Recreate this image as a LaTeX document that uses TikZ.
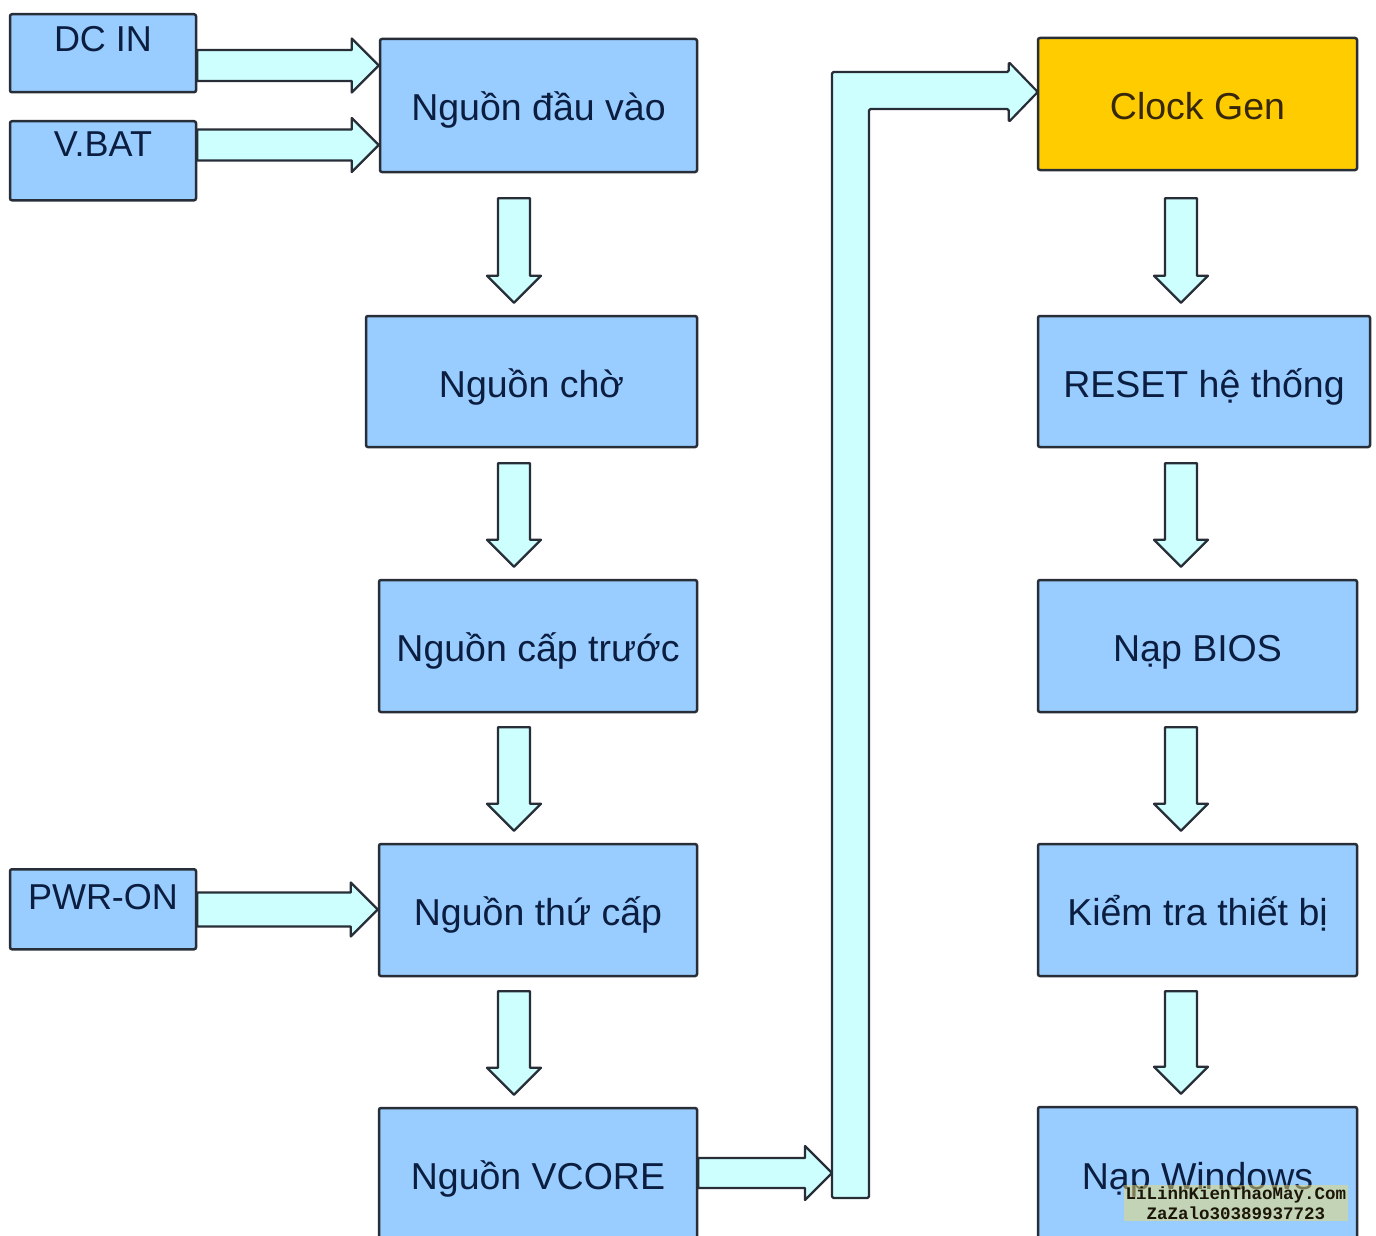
\documentclass[tikz,border=0pt]{standalone}
\usepackage{fontspec}
\setmainfont{Liberation Sans}
\newfontfamily\wmfont{Liberation Mono}
\usetikzlibrary{calc}
\definecolor{boxblue}{RGB}{153,204,255}
\definecolor{arrowcyan}{RGB}{206,255,255}
\definecolor{edgecol}{RGB}{40,46,56}
\definecolor{clockfill}{RGB}{255,204,0}
\definecolor{navytext}{RGB}{12,30,64}
\definecolor{browntext}{RGB}{55,40,10}
\definecolor{wmglow}{RGB}{236,218,110}
\definecolor{wmtext}{RGB}{28,22,8}
\tikzset{
  blockbox/.style={draw=edgecol, line width=2.5pt, fill=boxblue, rounded corners=2pt,
    text=navytext, font=\fontsize{37.5}{40}\selectfont, inner sep=0pt, anchor=center,
    text height=40pt, text depth=9pt},
  srcbox/.style={draw=edgecol, line width=2.5pt, fill=boxblue, rounded corners=2pt,
    text=navytext, font=\fontsize{36}{40}\selectfont, inner sep=0pt,
    minimum width=186pt, anchor=north},
  fatarrow/.style={draw=edgecol, line width=2.2pt, fill=arrowcyan, line join=round},
  wmark/.style={font=\wmfont\bfseries\fontsize{17.5}{20}\selectfont, align=center,
    fill=wmglow, fill opacity=0.5, text opacity=1, text=wmtext, inner sep=1.5pt}
}
% horizontal block arrow: from anchor #1 to anchor #2, centre y #3, shaft half #4
\newcommand\hfat[4]{%
  \draw[fatarrow] let \p1=(#1), \p2=(#2) in
    (\x1,#3pt+#4pt) -- (\x2-27pt,#3pt+#4pt) -- (\x2-27pt,#3pt+27pt) -- (\x2,#3pt)
    -- (\x2-27pt,#3pt-27pt) -- (\x2-27pt,#3pt-#4pt) -- (\x1,#3pt-#4pt) -- cycle;}
% vertical block arrow: from node #1 down to node #2, centre x #3, gap below #1 #4
\newcommand\vfat[4]{%
  \draw[fatarrow] let \p1=(#1.south), \p2=(#2.north) in
    (#3pt-16pt,\y1-#4pt) -- (#3pt+16pt,\y1-#4pt) -- (#3pt+16pt,\y2+39pt)
    -- (#3pt+27pt,\y2+39pt) -- (#3pt,\y2+12pt) -- (#3pt-27pt,\y2+39pt)
    -- (#3pt-16pt,\y2+39pt) -- cycle;}
\begin{document}
\begin{tikzpicture}[x=1pt,y=1pt]
\useasboundingbox (0,0) rectangle (1376,-1236);
\fill[white] (0,0) rectangle (1376,-1236);
\clip (0,0) rectangle (1376,-1236);

% source boxes
\node[srcbox, text height=37pt, text depth=41pt] (dcin) at (103,-13) {DC IN};
\node[srcbox, text height=35pt, text depth=44pt] (vbat) at (103,-120) {V.BAT};
\node[srcbox, text height=40pt, text depth=40pt] (pwron) at (103,-868) {PWR-ON};

% left column
\node[blockbox, minimum width=317pt, minimum height=133pt] (nin) at (538.5,-105.5) {Nguồn đầu vào};
\node[blockbox, minimum width=331pt, minimum height=131pt] (ncho) at (531.5,-381.5) {Nguồn chờ};
\node[blockbox, minimum width=318pt, minimum height=132pt] (ncap) at (538,-646) {Nguồn cấp trước};
\node[blockbox, minimum width=318pt, minimum height=132pt] (nthu) at (538,-910) {Nguồn thứ cấp};
\node[blockbox, minimum width=318pt, minimum height=132pt] (nvcore) at (538,-1174) {Nguồn VCORE};

% right column
\node[blockbox, fill=clockfill, text=browntext, minimum width=319pt, minimum height=132pt] (clock) at (1197.5,-104) {Clock Gen};
\node[blockbox, minimum width=332pt, minimum height=131pt] (reset) at (1204,-381.5) {RESET hệ thống};
\node[blockbox, minimum width=319pt, minimum height=132pt] (bios) at (1197.5,-646) {Nạp BIOS};
\node[blockbox, minimum width=319pt, minimum height=132pt] (kiem) at (1197.5,-910) {Kiểm tra thiết bị};
\node[blockbox, minimum width=319pt, minimum height=133pt] (win) at (1197.5,-1173.5) {Nạp Windows};

% horizontal arrows into the left column
\hfat{dcin.east}{nin.west}{-65.5}{15.5}
\hfat{vbat.east}{nin.west}{-145}{15.5}
\hfat{pwron.east}{nthu.west}{-909.5}{17}

% down arrows, left column
\vfat{nin}{ncho}{514}{25}
\vfat{ncho}{ncap}{514}{15}
\vfat{ncap}{nthu}{514}{14}
\vfat{nthu}{nvcore}{514}{14}

% down arrows, right column
\vfat{clock}{reset}{1181}{27}
\vfat{reset}{bios}{1181}{15}
\vfat{bios}{kiem}{1181}{14}
\vfat{kiem}{win}{1181}{14}

% big L-shaped arrow from VCORE to Clock Gen
\coordinate (lshaft) at (832,-1173);
\draw[fatarrow, rounded corners=1.5pt] let \p1=(clock.west) in
  (832pt,-1198pt) -- (832pt,-72pt) -- (\x1-28pt,-72pt) -- (\x1-28pt,-62pt)
  -- (\x1+1pt,-92pt) -- (\x1-28pt,-122pt) -- (\x1-28pt,-109pt)
  -- (869pt,-109pt) -- (869pt,-1198pt) -- cycle;
\hfat{nvcore.east}{lshaft}{-1173}{15}

% watermark
\node[wmark] (wm) at (1236,-1203) {LiLinhKienThaoMay.Com\\ZaZalo30389937723};
\end{tikzpicture}
\end{document}
